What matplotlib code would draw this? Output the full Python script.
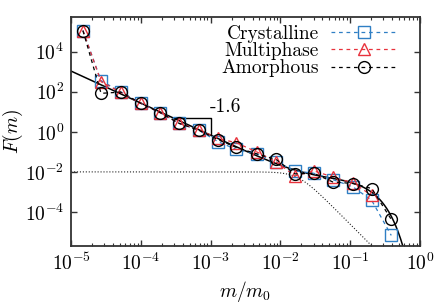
import numpy as np
import matplotlib
matplotlib.use("Agg")
import matplotlib.pyplot as plt

plt.rcParams['font.family'] = 'serif'
plt.rcParams['font.serif'] = ['cmr10']
plt.rcParams['mathtext.fontset'] = 'cm'
plt.rcParams['axes.unicode_minus'] = False
plt.rcParams['axes.formatter.use_mathtext'] = True

# masses m/m0 (log spaced bins)
m_bins = [1.48e-5, 2.69e-5, 5.13e-5, 1.0e-4, 1.91e-4, 3.55e-4, 6.76e-4, 1.29e-3,
          2.34e-3, 4.57e-3, 8.71e-3, 1.62e-2, 3.02e-2, 5.62e-2, 0.110, 0.204, 0.389]

# log10 F(m)
crystalline = [5.05, 2.55, 2.0, 1.42, 0.95, 0.42, 0.08, -0.5, -0.88, -1.1, -1.5,
               -1.95, -2.07, -2.38, -2.75, -3.42, -5.17]
multiphase = [5.05, 2.5, 1.97, 1.42, 0.95, 0.42, 0.1, -0.33, -0.55, -1.0, -1.5,
              -2.2, -1.95, -2.25, -2.55, -3.17]
amorphous = [5.05, 1.92, 1.98, 1.42, 0.95, 0.42, 0.08, -0.4, -0.78, -1.1, -1.38,
             -2.1, -2.07, -2.5, -2.58, -2.83, -4.37]

# fit parameters
tau = 1.6
amp = 10**-4.97
bump = 0.005
m_cut = 0.1445
plateau = 0.01
m_knee = 0.018

fig = plt.figure(figsize=(4.36, 3.03), dpi=100)
ax = fig.add_axes([0.163, 0.188, 0.80, 0.756])

m_line = np.logspace(-5, 0, 600)
fit = (amp * m_line**-tau + bump) * np.exp(-(m_line / m_cut)**1.5)
dotted = plateau / (1 + (m_line / m_knee)**3.5)

ax.plot(m_line, dotted, ':', color='#222222', lw=0.8, zorder=1)
ax.plot(m_line, fit, '-', color='black', lw=1.1, zorder=2)

dash = (3, 3)
ax.plot(m_bins, 10**np.array(crystalline), ls='--', dashes=dash, color='#2f7fc4', lw=0.9,
        marker='s', ms=8.5, mfc='none', mec='#2f7fc4', mew=1.0, label='Crystalline', zorder=3)
ax.plot(m_bins[:len(multiphase)], 10**np.array(multiphase), ls='--', dashes=dash, color='#e8323c', lw=0.9,
        marker='^', ms=8, mfc='none', mec='#e8323c', mew=1.0, label='Multiphase', zorder=4)
ax.plot(m_bins, 10**np.array(amorphous), ls='--', dashes=dash, color='black', lw=0.9,
        marker='o', ms=8.5, mfc='none', mec='black', mew=1.0, label='Amorphous', zorder=5)

# slope triangle
m1, m2 = 10**-3.54, 1e-3
f1 = amp * m1**-tau
f2 = amp * m2**-tau
ax.plot([m1, m2, m2], [f1, f1, f2], '-', color='black', lw=1.0, zorder=2)
ax.text(10**-2.79, 10**1.25, '-1.6', fontsize=14, ha='center', va='center')

ax.set_xscale('log')
ax.set_yscale('log')
ax.set_xlim(1e-5, 1)
ax.set_ylim(10**-5.7, 10**5.73)
ax.set_yticks([1e-4, 1e-2, 1e0, 1e2, 1e4])
ax.yaxis.set_minor_locator(matplotlib.ticker.NullLocator())
ax.set_xticks([1e-5, 1e-4, 1e-3, 1e-2, 1e-1, 1e0])
ax.xaxis.set_minor_locator(matplotlib.ticker.LogLocator(base=10, subs=np.arange(2, 10), numticks=20))

ax.tick_params(which='both', direction='in', top=True, right=True, labelsize=14, color='#333333')
ax.tick_params(which='major', length=4, width=1.0, pad=5)
ax.tick_params(which='minor', length=2.5, width=0.8)
for s in ax.spines.values():
    s.set_linewidth(1.3)
    s.set_color('#333333')

ax.set_xlabel('$m/m_0$', fontsize=14, labelpad=3)
ax.set_ylabel('$F(m)$', fontsize=14, labelpad=0)

ax.legend(loc='upper right', bbox_to_anchor=(0.934, 0.965), frameon=False, markerfirst=False,
          handlelength=3.4, handletextpad=0.6, borderpad=0, borderaxespad=0, labelspacing=-0.04,
          fontsize=14)

fig.savefig('out.png', dpi=100)
